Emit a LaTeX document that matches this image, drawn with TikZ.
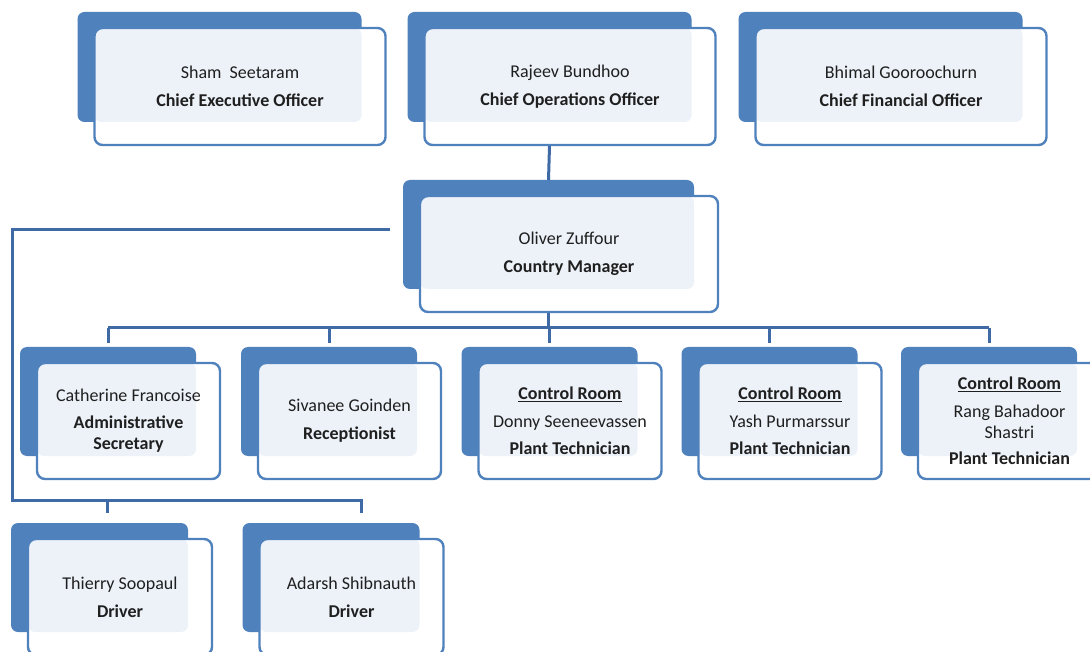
\documentclass[tikz,border=0pt]{standalone}
\usepackage{fontspec}
\setmainfont{Carlito}
\usetikzlibrary{calc}

\definecolor{orgblue}{RGB}{79,129,189}
\definecolor{linkblue}{RGB}{64,106,166}
\definecolor{paleblue}{RGB}{237,242,249}

\tikzset{
    back box/.style={
        fill=orgblue,
        rounded corners=7pt,
        inner sep=0,
        outer sep=0,
    },
    front box/.style={
        draw=orgblue,
        fill=white,
        line width=2.4pt,
        rounded corners=8pt,
        align=center,
        inner sep=0,
        text=black!88,
        font=\fontsize{18}{21}\selectfont,
        path picture={
            \fill[paleblue, rounded corners=7pt]
                (path picture bounding box.north west)
                rectangle ([shift={(-24pt,23pt)}]path picture bounding box.south east);
        },
    },
    link/.style={
        draw=linkblue,
        line width=3pt,
    },
}
\def\topw{291}
\def\toph{117}
\def\roww{183}
\def\rowh{116}

% name, centre x, centre y, width, height, text
\newcommand{\orgbox}[6]{%
    \node[back box, minimum width=#4-7, minimum height=#5-7] (#1-b) at (#2-20.5,#3+19.5) {};
    \node[front box, minimum width=#4, minimum height=#5] (#1) at (#2,#3) {#6};
}

\begin{document}
\begin{tikzpicture}[x=1pt,y=1pt]

    \useasboundingbox (0,0) rectangle (1090,-652);

    % officers
    \orgbox{ceo}{240}{-86.5}{\topw}{\toph}{Sham~ Seetaram\\[7pt]\textbf{Chief Executive Officer}}
    \orgbox{coo}{570}{-86.5}{\topw}{\toph}{Rajeev Bundhoo\\[7pt]\textbf{Chief Operations Officer}}
    \orgbox{cfo}{901}{-86.5}{\topw}{\toph}{Bhimal Gooroochurn\\[7pt]\textbf{Chief Financial Officer}}

    % country manager
    \orgbox{cm}{569}{-254}{298}{\rowh}{Oliver Zuffour\\[7pt]\textbf{Country Manager}}

    % staff
    \orgbox{sec}{128.5}{-421}{\roww}{\rowh}{Catherine Francoise\\[6pt]\textbf{Administrative}\\\textbf{Secretary}}
    \orgbox{rec}{349.5}{-421}{\roww}{\rowh}{Sivanee Goinden\\[7pt]\textbf{Receptionist}}
    \orgbox{tech1}{570}{-421}{\roww}{\rowh}{\underline{\textbf{Control Room}}\\[7pt]Donny Seeneevassen\\[6pt]\textbf{Plant Technician}}
    \orgbox{tech2}{790}{-421}{\roww}{\rowh}{\underline{\textbf{Control Room}}\\[7pt]Yash Purmarssur\\[6pt]\textbf{Plant Technician}}
    \orgbox{tech3}{1009.5}{-421}{\roww}{\rowh}{\underline{\textbf{Control Room}}\\[7pt]Rang Bahadoor\\Shastri\\[5pt]\textbf{Plant Technician}}

    % drivers
    \orgbox{drv1}{120}{-597}{184}{\rowh}{Thierry Soopaul\\[7pt]\textbf{Driver}}
    \orgbox{drv2}{351.5}{-597}{184}{\rowh}{Adarsh Shibnauth\\[7pt]\textbf{Driver}}

    % links
    \coordinate (bus) at (0,-328);
    \coordinate (cmleft) at (390,-230);
    \coordinate (drvbus) at (12,-500);
    \coordinate (drv1top) at (107,-513);
    \coordinate (drv2top) at (361,-513);

    \draw[link] (coo-b |- coo.south) -- (cm-b.north);
    \draw[link] (cm-b |- cm.south) -- (cm-b |- bus);
    \draw[link] (sec-b |- bus) -- (tech3-b |- bus);
    \foreach \nm in {sec,rec,tech1,tech2,tech3} {
        \draw[link] (\nm-b |- bus) -- ([yshift=4]\nm-b.north);
    }
    \draw[link] (cmleft) -| (drvbus) -| (drv2top);
    \draw[link] (drv1top |- drvbus) -- (drv1top);

\end{tikzpicture}
\end{document}
